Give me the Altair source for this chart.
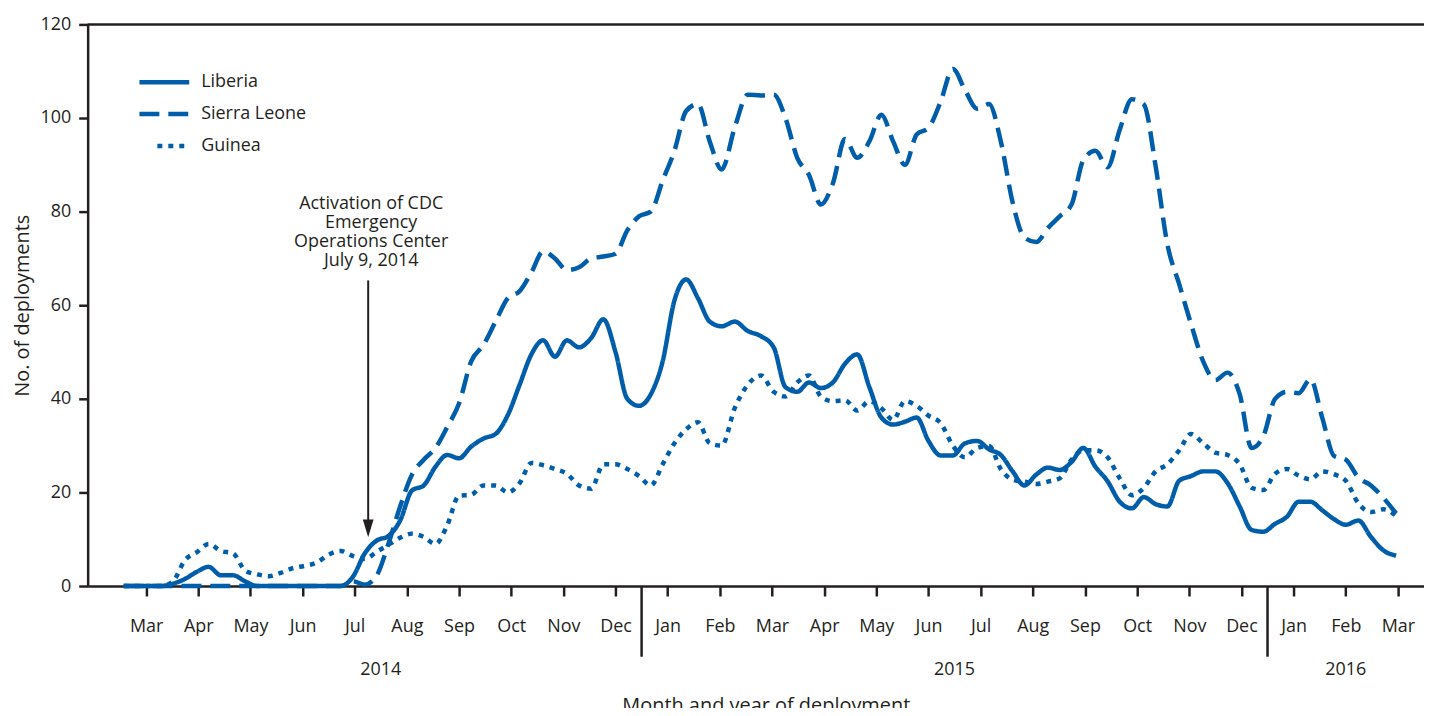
import json
import altair as alt
import pandas as pd

# ---------------- data ----------------
MONTH_NAMES = ["Jan", "Feb", "Mar", "Apr", "May", "Jun",
               "Jul", "Aug", "Sep", "Oct", "Nov", "Dec"]
SERIES = ["Liberia", "Sierra Leone", "Guinea"]
FIRST_WEEK = "2014-02-17"          # weekly observations start
FIRST_TICK_YEAR, FIRST_TICK_MONTH = 2014, 3   # first labelled month (Mar 2014)
N_TICKS = 25                        # Mar 2014 ... Mar 2016
Y_TICKS = [0, 20, 40, 60, 80, 100, 120]

liberia = [
    0, 0, 0, 0, 0.5, 1.5, 3.0, 4.1, 2.3, 2.3,
    1.0, 0, 0, 0, 0, 0, 0, 0, 0, 2,
    7, 9.7, 10.7, 14, 20.4, 21.5, 25.5, 28, 27.3, 29.8,
    31.5, 32.5, 36.5, 43, 49.5, 52.5, 49, 52.5, 51, 53,
    57, 50, 40, 38.5, 41, 48, 61, 65.5, 61.5, 56.5,
    55.5, 56.5, 54.5, 53.4, 51, 42.5, 41.5, 43.5, 42.3, 43.5,
    47.5, 49.5, 42.5, 36, 34.5, 35.1, 36, 31, 27.9, 27.9,
    30.5, 31, 29.2, 28, 24.5, 21.5, 23.8, 25.3, 24.8, 26.5,
    29.5, 25.5, 22.4, 18, 16.6, 19, 17.5, 17, 22.5, 23.5,
    24.5, 24.5, 22, 17, 12, 11.6, 13.3, 14.8, 18, 18,
    16.2, 14.3, 13.1, 14, 10.5, 7.6, 6.5,
]
sierra_leone = [
    0, 0, 0, 0, 0, 0, 0, 0, 0, 0,
    0, 0, 0, 0, 0, 0, 0, 0, 0, 1,
    0.3, 2.2, 9, 17, 23.8, 27, 29.5, 34, 39, 48,
    51.5, 56.5, 61.5, 63, 67, 71.5, 70, 67.5, 68.1, 70,
    70.4, 71, 76, 79, 80, 86.6, 93, 101.5, 103, 95,
    89, 98, 105, 104.8, 105, 100, 91.5, 87.8, 81.5, 86,
    95.5, 91.5, 95, 100.7, 95, 90, 96.5, 97.9, 103.5, 110.5,
    106, 102, 103, 95, 82, 74.5, 73.5, 76.5, 79, 81.5,
    91, 93, 89.5, 97.5, 104, 102.9, 89.7, 73, 64.5, 56,
    48, 44, 45.6, 41, 29.5, 32, 40, 41.5, 41.2, 44.2,
    36, 27.8, 27, 23.2, 21.5, 18.8, 15.5,
]
guinea = [
    0, 0, 0, 0, 1, 5.5, 7.2, 9, 7.5, 7,
    3.3, 2.5, 2.1, 2.8, 3.8, 4.3, 5, 6.7, 7.5, 6.4,
    5.8, 7.3, 8.8, 10.3, 11.2, 10.5, 9, 13, 19.3, 19.5,
    21.5, 21.5, 20, 22, 26.3, 25.8, 25, 24, 21.5, 20.8,
    26, 26, 25, 23.5, 21.5, 26, 30.5, 33.5, 35, 30.5,
    30, 38, 43, 45, 41.5, 40.5, 43.5, 45, 40.5, 39.5,
    39.7, 37.5, 39.5, 38, 35.5, 39.5, 38.5, 36.4, 34.8, 30,
    27.5, 29.5, 29.9, 25, 22.7, 22.3, 21.8, 22.3, 23, 27,
    29, 29, 27.5, 23, 19.4, 21, 24.5, 26, 29, 32.5,
    30.5, 28.5, 28, 26, 21, 20.5, 24, 25, 23.6, 22.8,
    24.5, 23.9, 22.5, 17.7, 15.8, 16.4, 15,
]

ACTIVATION_DATE = "2014-07-09"
ACTIVATION_TEXT = "Activation of CDC\nEmergency\nOperations Center\nJuly 9, 2014"
ANNOT_TEXT_Y = 80.6     # baseline of first annotation line (data units)
ARROW_TOP_Y = 65.3      # arrow start (data units)
ARROW_TIP_Y = 10.4      # arrow tip (data units)

# ---------------- styling ----------------
BLUE = "#005DAA"
INK = "#231F20"
FONT = "Open Sans"
W, H = 1342, 564
X_DOMAIN = [-1.12, 24.5]
Y_DOMAIN = [0, 120]


def month_index(ts):
    return ((ts.year - FIRST_TICK_YEAR) * 12 + (ts.month - FIRST_TICK_MONTH)
            + (ts.day - 1) / ts.days_in_month)


weeks = pd.date_range(FIRST_WEEK, periods=len(liberia), freq="7D")
rows = []
for name, vals in zip(SERIES, [liberia, sierra_leone, guinea]):
    for d, v in zip(weeks, vals):
        rows.append({"m": month_index(d), "value": v, "country": name})
df = pd.DataFrame(rows)

x_scale = alt.Scale(domain=X_DOMAIN, nice=False, zero=False)
y_scale = alt.Scale(domain=Y_DOMAIN, nice=False)
dash_scale = alt.Scale(domain=SERIES, range=[[1, 0], [20, 9], [5, 6]])

label_expr = f"{json.dumps(MONTH_NAMES)}[(datum.value + {FIRST_TICK_MONTH - 1}) % 12]"

x_axis = alt.Axis(
    values=list(range(N_TICKS)), labelExpr=label_expr, grid=False,
    tickSize=10, tickWidth=2.5, tickColor=INK, domainColor=INK, domainWidth=2.5,
    labelFontSize=18, labelColor=INK, labelPadding=22, labelFlush=False,
    title="Month and year of deployment", titleFontSize=20, titleFontWeight="normal",
    titleColor=INK, titlePadding=60, titleX=681,
)
y_axis = alt.Axis(
    values=Y_TICKS, grid=False, tickSize=9, tickWidth=2.5, tickColor=INK,
    domainColor=INK, domainWidth=2.5, labelFontSize=18, labelColor=INK,
    labelPadding=8, title="No. of deployments", titleFontSize=20,
    titleFontWeight="normal", titleColor=INK, titlePadding=8,
)

lines = alt.Chart(df).mark_line(
    interpolate="monotone", strokeWidth=4.5, color=BLUE, strokeCap="butt"
).encode(
    x=alt.X("m:Q", scale=x_scale, axis=x_axis),
    y=alt.Y("value:Q", scale=y_scale, axis=y_axis),
    strokeDash=alt.StrokeDash("country:N", scale=dash_scale, legend=None),
    detail="country:N",
)

# frame line along the top
top_rule = alt.Chart(pd.DataFrame({"v": [Y_DOMAIN[1]]})).mark_rule(
    color=INK, strokeWidth=2.5
).encode(y=alt.Y("v:Q", scale=y_scale), x=alt.value(0), x2=alt.value(W))

# year separators and year labels
tick_dates = pd.date_range(f"{FIRST_TICK_YEAR}-{FIRST_TICK_MONTH:02d}-01",
                           periods=N_TICKS, freq="MS")
sep_pos = [i - 0.5 for i, d in enumerate(tick_dates) if d.month == 1]
year_rows = []
for yr in sorted(set(tick_dates.year)):
    idx = [i for i, d in enumerate(tick_dates) if d.year == yr]
    year_rows.append({"m": (idx[0] + idx[-1]) / 2, "label": str(yr)})

seps = alt.Chart(pd.DataFrame({"m": sep_pos})).mark_rule(
    color=INK, strokeWidth=2.5
).encode(x=alt.X("m:Q", scale=x_scale), y=alt.value(H), y2=alt.value(H + 71))

years = alt.Chart(pd.DataFrame(year_rows)).mark_text(
    fontSize=18, color=INK, baseline="middle", align="center"
).encode(x=alt.X("m:Q", scale=x_scale), y=alt.value(H + 84), text="label:N")

# annotation
act_m = month_index(pd.Timestamp(ACTIVATION_DATE))
head_y = ARROW_TIP_Y + 9 * (Y_DOMAIN[1] - Y_DOMAIN[0]) / H
annot_df = pd.DataFrame({"m": [act_m], "ty": [ANNOT_TEXT_Y], "y1": [ARROW_TOP_Y],
                         "y2": [head_y], "txt": [ACTIVATION_TEXT]})
annot_text = alt.Chart(annot_df).mark_text(
    fontSize=18, color=INK, align="center", baseline="alphabetic",
    lineBreak="\n", lineHeight=19, dx=3
).encode(x=alt.X("m:Q", scale=x_scale), y=alt.Y("ty:Q", scale=y_scale), text="txt:N")
arrow_shaft = alt.Chart(annot_df).mark_rule(color=INK, strokeWidth=2).encode(
    x=alt.X("m:Q", scale=x_scale), y=alt.Y("y1:Q", scale=y_scale), y2="y2:Q"
)
arrow_head = alt.Chart(annot_df).mark_point(
    shape="M-0.6,-1L0.6,-1L0,1Z", size=324, filled=True, color=INK, opacity=1
).encode(x=alt.X("m:Q", scale=x_scale), y=alt.Y("y2:Q", scale=y_scale))

# legend (drawn as key lines + labels)
legend_layers = []
legend_rows_y = [58, 90, 122]
legend_x0 = [52, 52, 70]
for name, ly, lx0 in zip(SERIES, legend_rows_y, legend_x0):
    ldf = pd.DataFrame({"country": [name]})
    legend_layers.append(
        alt.Chart(ldf).mark_rule(strokeWidth=4.5, color=BLUE, strokeCap="butt").encode(
            x=alt.value(lx0), x2=alt.value(102), y=alt.value(ly),
            strokeDash=alt.StrokeDash("country:N", scale=dash_scale, legend=None),
        )
    )
    legend_layers.append(
        alt.Chart(ldf).mark_text(fontSize=18, color=INK, align="left", baseline="middle").encode(
            x=alt.value(114), y=alt.value(ly), text="country:N"
        )
    )

chart = alt.layer(
    top_rule, seps, years, lines, annot_text, arrow_shaft, arrow_head, *legend_layers
).properties(
    width=W, height=H,
    padding={"left": 80, "top": 15, "right": 0, "bottom": 121},
    autosize=alt.AutoSizeParams(type="none"),
).configure(font=FONT).configure_view(stroke=None)

chart.save("out.html", embed_options={"renderer": "svg", "actions": False})
